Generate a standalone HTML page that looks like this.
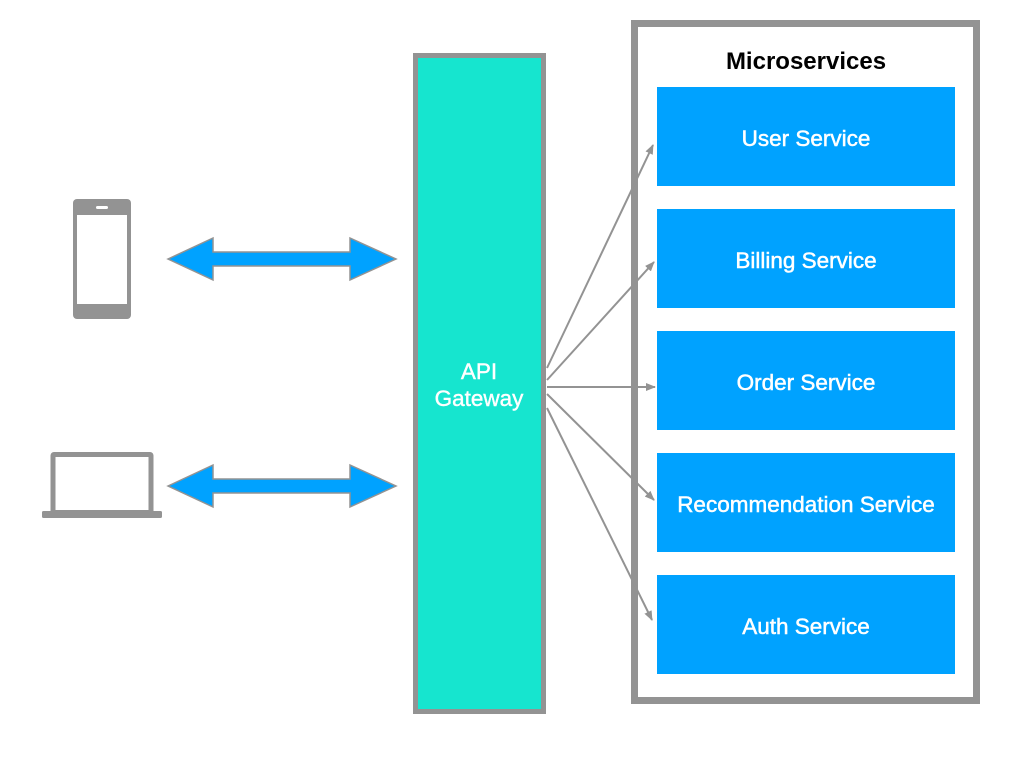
<!DOCTYPE html>
<html><head><style>
body{margin:0;width:1024px;height:768px;background:#fff;overflow:hidden;font-family:"Liberation Sans",sans-serif}
</style></head><body>
<svg width="1024" height="768" xmlns="http://www.w3.org/2000/svg">
<defs><marker id="a" markerWidth="10" markerHeight="8" refX="9" refY="4" orient="auto" markerUnits="userSpaceOnUse"><path d="M0,0 L10,4 L0,8 Z" fill="#939393"/></marker></defs>
<!-- gateway -->
<rect x="415.5" y="55.5" width="128" height="656" fill="#16e5cf" stroke="#939393" stroke-width="5"/>
<g font-size="22.5" fill="#fff" stroke="#fff" stroke-width="0.4" text-anchor="middle" font-family="Liberation Sans">
<text x="479" y="379">API</text>
<text x="479" y="406">Gateway</text>
</g>
<!-- container -->
<rect x="634.5" y="23.5" width="342" height="677" fill="#fff" stroke="#939393" stroke-width="7"/>
<text x="806" y="69" font-size="24" font-weight="bold" fill="#000" text-anchor="middle" font-family="Liberation Sans">Microservices</text>
<g fill="#00a2ff">
<rect x="657" y="87" width="298" height="99"/>
<rect x="657" y="209" width="298" height="99"/>
<rect x="657" y="331" width="298" height="99"/>
<rect x="657" y="453" width="298" height="99"/>
<rect x="657" y="575" width="298" height="99"/>
</g>
<g fill="#fff" stroke="#fff" stroke-width="0.5" font-size="22.5" text-anchor="middle" font-family="Liberation Sans">
<text x="806" y="146">User Service</text>
<text x="806" y="268">Billing Service</text>
<text x="806" y="390">Order Service</text>
<text x="806" y="512">Recommendation Service</text>
<text x="806" y="634">Auth Service</text>
</g>
<!-- connectors -->
<g stroke="#939393" stroke-width="2" fill="none" marker-end="url(#a)">
<line x1="547" y1="368" x2="653" y2="145"/>
<line x1="547" y1="380" x2="654" y2="262"/>
<line x1="547" y1="387" x2="655" y2="387"/>
<line x1="547" y1="394" x2="654" y2="500"/>
<line x1="547" y1="408" x2="652" y2="620"/>
</g>
<!-- double arrows -->
<g fill="#00a2ff" stroke="#939393" stroke-width="1.5">
<path d="M168,259 L213,238 L213,252 L350,252 L350,238 L396,259 L350,280 L350,266 L213,266 L213,280 Z"/>
<path d="M168,486 L213,465 L213,479 L350,479 L350,465 L396,486 L350,507 L350,493 L213,493 L213,507 Z"/>
</g>
<!-- phone -->
<rect x="73" y="199" width="58" height="120" rx="4" fill="#939393"/>
<rect x="77" y="215" width="50" height="89" fill="#fff"/>
<rect x="96" y="206" width="12" height="3" rx="1.5" fill="#fff"/>
<!-- laptop -->
<rect x="53" y="454.5" width="98" height="58" fill="#fff" stroke="#939393" stroke-width="5" rx="1"/>
<rect x="42" y="511" width="120" height="7" rx="1.5" fill="#939393"/>
</svg>
</body></html>
